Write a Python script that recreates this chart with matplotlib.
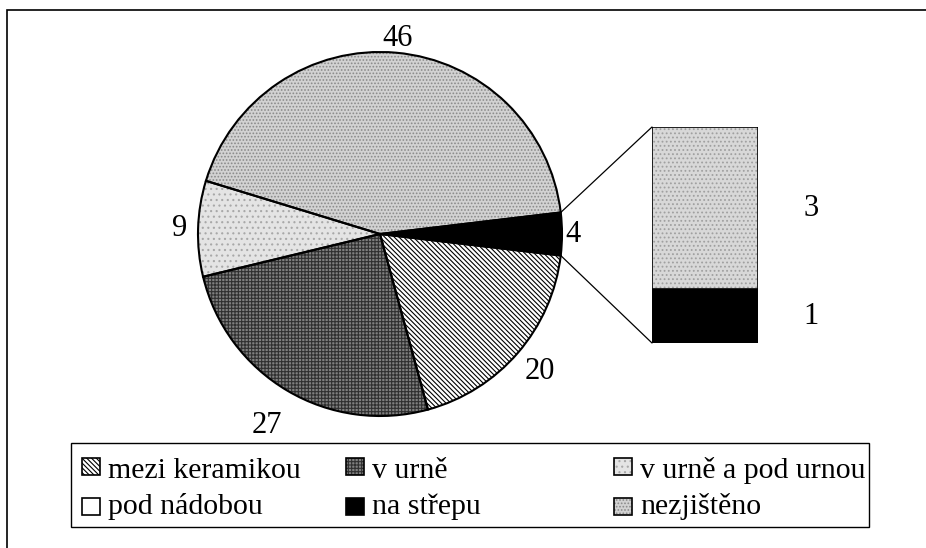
import matplotlib
matplotlib.use("Agg")
import matplotlib.pyplot as plt
from matplotlib.patches import Rectangle, ConnectionPatch
import numpy as np

plt.rcParams['font.family'] = ['Liberation Serif', 'DejaVu Serif']
plt.rcParams['hatch.linewidth'] = 0.8

# ---- data ----
pie_values = [4, 46, 9, 27, 20]          # "other" (black) first, then counterclockwise
pie_labels = ['4', '46', '9', '27', '20']
bar_values = [1, 3]                       # na střepu, pod nádobou
bar_labels = ['1', '3']
legend_labels = ['mezi keramikou', 'v urně', 'v urně a pod urnou',
                 'pod nádobou', 'na střepu', 'nezjištěno']

# ---- styles ----
pie_face = ['black', '#d2d2d2', '#e4e4e4', '#808080', 'white']
pie_hatch = [None, '.....', '...', '+++++', '\\\\\\\\\\\\\\']
pie_hcol = ['black', '#8a8a8a', '#a8a8a8', '#303030', 'black']
label_dist = [1.06, 1.08, 1.1, 1.22, 1.16]
bar_face = ['black', '#d8d8d8']
bar_hatch = [None, '....']
bar_hcol = ['black', '#a0a0a0']

W, H = 926, 548
fig = plt.figure(figsize=(W / 100, H / 100), dpi=100)

# outer frame
fig.patches.append(Rectangle((7 / W, -0.02), 1.05, (H - 10) / H + 0.02,
                             transform=fig.transFigure, fill=False,
                             edgecolor='black', lw=1.2))

# ---- pie ----
cx, cy, r = 380, 234, 182
axp = fig.add_axes([(cx - r) / W, (H - cy - r) / H, 2 * r / W, 2 * r / H])
start = -0.5 * pie_values[0] / sum(pie_values) * 360
wedges, _ = axp.pie(pie_values, startangle=start, counterclock=True, radius=1,
                    colors=pie_face, wedgeprops=dict(linewidth=0))
for w, h, hc in zip(wedges, pie_hatch, pie_hcol):
    w.set_edgecolor(hc)
    if h:
        w.set_hatch(h)
outl, _ = axp.pie(pie_values, startangle=start, counterclock=True, radius=1,
                  colors=['none'] * len(pie_values),
                  wedgeprops=dict(linewidth=1.5, edgecolor='black', fill=False))
axp.set_xlim(-1, 1); axp.set_ylim(-1, 1); axp.axis('off')
for w, lab, d in zip(wedges, pie_labels, label_dist):
    ang = np.deg2rad((w.theta1 + w.theta2) / 2)
    axp.text(d * np.cos(ang), d * np.sin(ang), lab, ha='center', va='center',
             fontsize=22, clip_on=False)

# ---- bar ----
bx0, by0, bw, bh = 652, 127, 106, 216
axb = fig.add_axes([bx0 / W, (H - by0 - bh) / H, bw / W, bh / H])
axb.set_xlim(-0.5, 0.5); axb.set_ylim(0, sum(bar_values)); axb.axis('off')
bottom = 0
for v, lab, fc, h, hc in zip(bar_values, bar_labels, bar_face, bar_hatch, bar_hcol):
    axb.bar(0, v, bottom=bottom, width=1, color=fc, edgecolor=hc,
            hatch=h, linewidth=0)
    axb.bar(0, v, bottom=bottom, width=1, fill=False, edgecolor='black', linewidth=1.2)
    axb.text(1.0, bottom + v / 2, lab, ha='center', va='center', fontsize=22,
             clip_on=False)
    bottom += v

# connector lines
w0 = wedges[0]
for ang, yb in [(w0.theta2, sum(bar_values)), (w0.theta1, 0)]:
    a = np.deg2rad(ang)
    con = ConnectionPatch(xyA=(np.cos(a), np.sin(a)), coordsA=axp.transData,
                          xyB=(-0.5, yb), coordsB=axb.transData,
                          color='black', lw=0.9)
    fig.add_artist(con)

# ---- legend (manual) ----
lx0, ly0, lx1, ly1 = 71, 443, 869, 527
fig.patches.append(Rectangle((lx0 / W, 1 - ly1 / H), (lx1 - lx0) / W, (ly1 - ly0) / H,
                             transform=fig.transFigure, fill=False,
                             edgecolor='black', lw=1.0))
col_x = [82, 346, 614]
row_mark = [466, 506]
row_base = [478, 514]
leg_face = [pie_face[4], pie_face[3], pie_face[2], 'white', 'black', pie_face[1]]
leg_hatch = [pie_hatch[4], pie_hatch[3], pie_hatch[2], None, None, pie_hatch[1]]
leg_hcol = [pie_hcol[4], pie_hcol[3], pie_hcol[2], 'black', 'black', pie_hcol[1]]
sw, sh = 18, 17
for i, lab in enumerate(legend_labels):
    x = col_x[i % 3]; ym = row_mark[i // 3]; yb = row_base[i // 3]
    rect = Rectangle((x / W, 1 - (ym + sh / 2) / H), sw / W, sh / H,
                     transform=fig.transFigure, facecolor=leg_face[i],
                     edgecolor=leg_hcol[i], hatch=leg_hatch[i], lw=0)
    fig.patches.append(rect)
    fig.patches.append(Rectangle((x / W, 1 - (ym + sh / 2) / H), sw / W, sh / H,
                                 transform=fig.transFigure, fill=False,
                                 edgecolor='black', lw=1.2))
    fig.text((x + sw + 8) / W, 1 - yb / H, lab, ha='left', va='baseline',
             fontsize=21.5)

fig.savefig('out.png', dpi=100)
